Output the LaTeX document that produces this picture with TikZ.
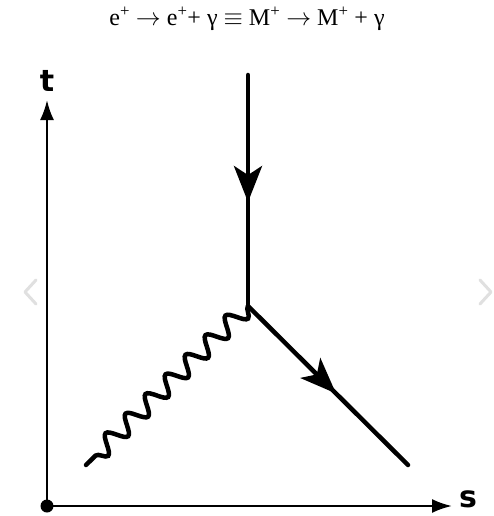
\documentclass[tikz,border=0pt]{standalone}
\usepackage{fontspec}
\setmainfont{Liberation Serif}
\newfontfamily\axisfont{DejaVu Sans}
\usetikzlibrary{arrows.meta,decorations.markings,decorations.pathmorphing}
\tikzset{
    axisline/.style={-{Latex[length=20pt,width=14pt]},line width=2.3pt},
    fermionline/.style={line width=4.5pt,line cap=round,postaction={decorate},
        decoration={markings,mark=at position #1 with {\arrow{Stealth[length=36pt,width=28pt,inset=9pt]}}}},
    photonline/.style={line width=4.5pt,line cap=round,decorate,
        decoration={snake,segment length=28pt,amplitude=9pt,post length=2pt}},
    axislabel/.style={font=\axisfont\bfseries\fontsize{30}{30}\selectfont,inner sep=0pt},
    titletext/.style={font=\fontsize{24}{24}\selectfont,inner sep=0pt},
    navmark/.style={line width=3pt,black!12,line cap=round,line join=round}
}

\begin{document}
\begin{tikzpicture}[x=1pt,y=-1pt]
    \useasboundingbox[fill=white] (0,0) rectangle (494,516);
    \node[titletext] (title) at (247,19) {e\textsuperscript{+} $\rightarrow$ e\textsuperscript{+}+ γ $\equiv$ M\textsuperscript{+} $\rightarrow$ M\textsuperscript{+} + γ};
    % axes
    \coordinate (origin) at (47,506);
    \node[axislabel] (tlabel) at (47,81) {t};
    \node[axislabel,anchor=base] (slabel) at (468,507) {s};
    \coordinate (ttip) at (47,100);
    \coordinate (stip) at (452,506);
    \draw[axisline] (origin) -- (ttip);
    \draw[axisline] (origin) -- (stip);
    \fill (origin) circle (6.5);
    % vertex and lines
    \coordinate (vertex) at (248,306);
    \coordinate (intop) at (248,75);
    \coordinate (outend) at (408,465);
    \coordinate (photonend) at (86,465);
    \draw[fermionline=0.55] (intop) -- (vertex);
    \draw[fermionline=0.55] (vertex) -- (outend);
    \draw[photonline] (vertex) -- (photonend);
    % carousel marks
    \draw[navmark] (36,280) -- (25,292) -- (36,304);
    \draw[navmark] (480,280) -- (491,292) -- (480,304);
\end{tikzpicture}
\end{document}
